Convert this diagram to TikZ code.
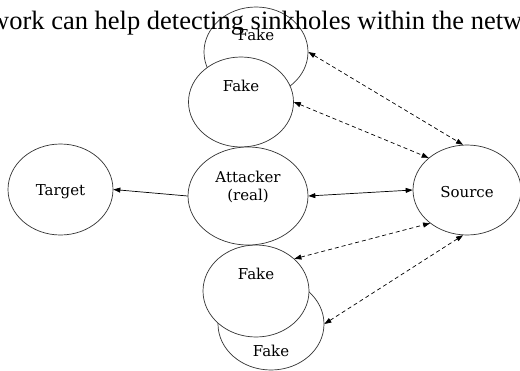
\documentclass[tikz,border=0pt]{standalone}
\usepackage{fontspec}
\setmainfont{Liberation Serif}
\newfontfamily\nodefont{DejaVu Serif}
\usetikzlibrary{shapes.geometric,arrows.meta}
\tikzset{
  host/.style={draw=black!80, line width=0.7pt, ellipse, fill=white, inner sep=0pt},
  hostlbl/.style={font=\nodefont\fontsize{15}{18}\selectfont, align=center},
  link/.style={line width=0.7pt, >={Triangle[length=7pt,width=5pt]}},
  probe/.style={link, dash pattern=on 4pt off 3pt},
}
\begin{document}
\begin{tikzpicture}[x=1pt,y=-1pt]
    \useasboundingbox (0,0) rectangle (520,370);
    % fakes at the back go first
    \node (fakeA) [host, minimum width=104pt, minimum height=90pt,
      label={[hostlbl, yshift=17pt]center:Fake}] at (256,52) {};
    \node (fakeB) [host, minimum width=105pt, minimum height=90pt,
      label={[hostlbl, yshift=16pt]center:Fake}] at (241,102) {};
    \node (fakeD) [host, minimum width=106pt, minimum height=92pt,
      label={[hostlbl, yshift=-27pt]center:Fake}] at (271,324) {};
    \node (fakeC) [host, minimum width=106pt, minimum height=92pt,
      label={[hostlbl, yshift=17pt]center:Fake}] at (256,291) {};
    \node (att) [host, minimum width=120pt, minimum height=98pt,
      label={[hostlbl, yshift=9pt]center:Attacker\\(real)}] at (248,196) {};
    \node (tgt) [host, minimum width=105pt, minimum height=91pt,
      label={[hostlbl, yshift=-2pt]center:Target}] at (60.5,189.5) {};
    \node (src) [host, minimum width=108pt, minimum height=90pt,
      label={[hostlbl, yshift=-2pt]center:Source}] at (467,190) {};
    % caption line over the top fake, cut off by the page
    \node (caption) [anchor=base west, inner sep=0pt, font=\fontsize{26.5}{30}\selectfont]
      at (-10,29) {work can help detecting sinkholes within the netw};
    % real traffic
    \draw[link, ->] (att.west) -- (tgt.east);
    \draw[link, <->] (att.east) -- (src.west);
    % probes through the fakes
    \draw[probe, <->] (fakeA.east) -- (src.95);
    \draw[probe, <->] (fakeB.east) -- (src.140);
    \draw[probe, <->] (fakeC.40) -- (src.222);
    \draw[probe, <->] (fakeD.east) -- (src.265);
\end{tikzpicture}
\end{document}
